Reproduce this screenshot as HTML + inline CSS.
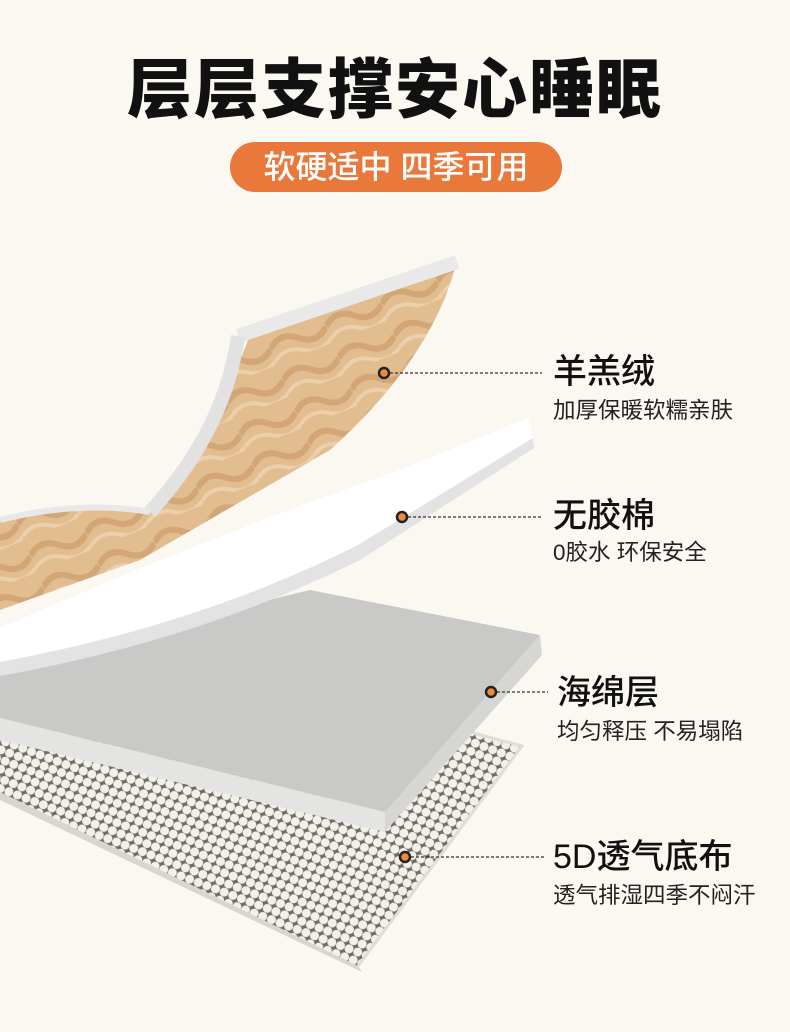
<!DOCTYPE html>
<html><head><meta charset="utf-8"><style>
body{margin:0;width:790px;height:1032px;background:#fbf8f1;overflow:hidden;position:relative;font-family:"Liberation Sans","Noto Sans CJK SC",sans-serif;}
.t{position:absolute;left:0;width:790px;top:48px;text-align:center;font-size:65px;font-weight:900;color:#111;letter-spacing:2px;line-height:84px}
.pill{position:absolute;left:230px;top:142px;width:332px;height:50px;border-radius:25px;background:#e8793a;color:#fff;font-size:32px;line-height:50px;text-align:center;font-weight:500}
.l{position:absolute;color:#111;font-size:34px;font-weight:500;line-height:38px}
.s{position:absolute;color:#222;font-size:22.5px;line-height:28px}
svg{position:absolute;left:0;top:0}
</style></head><body>
<div class="t">层层支撑安心睡眠</div>
<div class="pill">软硬适中 四季可用</div>
<svg width="790" height="1032" viewBox="0 0 790 1032">
<defs>
<pattern id="hex" width="14" height="12" patternUnits="userSpaceOnUse" patternTransform="rotate(-20)">
<rect width="14" height="12" fill="#6f6b66"/>
<circle cx="3.5" cy="3" r="4.5" fill="#f3f0ea"/>
<circle cx="10.5" cy="9" r="4.5" fill="#f3f0ea"/>
<circle cx="10.5" cy="-3" r="4.5" fill="#f3f0ea"/>
<circle cx="3.5" cy="15" r="4.5" fill="#f3f0ea"/>
<circle cx="17.5" cy="3" r="4.5" fill="#f3f0ea"/>
<circle cx="-3.5" cy="9" r="4.5" fill="#f3f0ea"/>
</pattern>
<pattern id="wave" width="60" height="34" patternUnits="userSpaceOnUse" patternTransform="rotate(-22)">
<rect width="60" height="34" fill="#e2bd8f"/>
<path d="M0 17 Q15 4 30 17 T60 17" stroke="#d2a676" stroke-width="6" fill="none"/>
<path d="M0 30 Q15 20 30 30 T60 30" stroke="#ecd0ad" stroke-width="4" fill="none"/>
</pattern>
</defs>
<polygon points="0,738 470,732 522,746 358,966 0,792" fill="url(#hex)"/>
<polygon points="0,792 358,966 362,972 0,800" fill="#d8d6d2"/>
<polyline points="0,738 470,732 522,746 358,966" fill="none" stroke="#ddd" stroke-width="3"/>
<polygon points="0,665 310,590 540,635 385,812 0,718" fill="#c9c9c8"/>
<polygon points="0,718 385,812 385,832 0,740" fill="#e4e4e3"/>
<polygon points="385,812 540,635 542,655 385,832" fill="#d6d6d5"/>
<path d="M248,340 L455,268 Q430,360 330,450 L140,560 L0,610 L0,520 Q80,500 150,512 Q215,430 248,340 Z" fill="url(#wave)"/>
<path d="M238,336 L457,262" stroke="#e9e9e9" stroke-width="14"/>
<path d="M238,336 Q225,430 150,512" stroke="#e2e2e2" stroke-width="14" fill="none"/>
<path d="M150,512 Q80,500 0,520" stroke="#e8e8e8" stroke-width="6" fill="none"/>
<path d="M0,628 Q200,540 400,470 L528,418 L533,438 L358,545 Q200,625 0,662 Z" fill="#fff"/>
<path d="M533,438 L358,545 Q200,625 0,662 L0,676 Q200,640 360,560 L534,448 Z" fill="#e3e3e3"/>
<g stroke="#333" stroke-width="1.3" stroke-dasharray="3,2" fill="none">
<line x1="390" y1="373" x2="542" y2="373"/>
<line x1="408" y1="517" x2="542" y2="517"/>
<line x1="497" y1="692" x2="548" y2="692"/>
<line x1="411" y1="857" x2="545" y2="857"/>
</g>
<g fill="#f08a3a" stroke="#222" stroke-width="2.5">
<circle cx="384" cy="373" r="5"/><circle cx="402" cy="517" r="5"/><circle cx="491" cy="692" r="5"/><circle cx="405" cy="857" r="5"/>
</g>
</svg>
<div class="l" style="left:553px;top:353px">羊羔绒</div>
<div class="s" style="left:553px;top:397px">加厚保暖软糯亲肤</div>
<div class="l" style="left:553px;top:497px">无胶棉</div>
<div class="s" style="left:553px;top:539px">0胶水 环保安全</div>
<div class="l" style="left:557px;top:674px">海绵层</div>
<div class="s" style="left:557px;top:718px">均匀释压 不易塌陷</div>
<div class="l" style="left:553px;top:838px">5D透气底布</div>
<div class="s" style="left:553px;top:882px">透气排湿四季不闷汗</div>
</body></html>
